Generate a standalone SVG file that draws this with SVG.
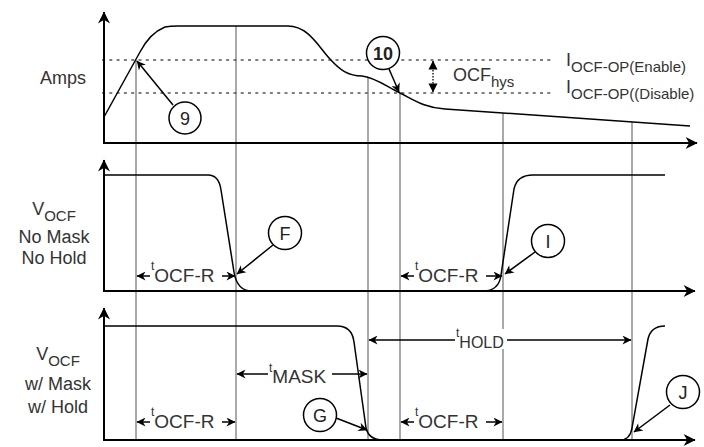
<svg xmlns="http://www.w3.org/2000/svg" width="704" height="447" viewBox="0 0 704 447">
<style>
text{font-family:"Liberation Sans",Arial,sans-serif;fill:#333}
.lbl{font-size:18px}
.sub{font-size:15px}
.ts{font-size:12px}
.big{font-size:19px}
.sig{fill:none;stroke:#000;stroke-width:1.5;stroke-linejoin:round}
.axis{fill:none;stroke:#000;stroke-width:2}
.guide{stroke:#555;stroke-width:1}
.dash{stroke:#555;stroke-width:1.3;stroke-dasharray:3 4.3}
.ptr{stroke:#000;stroke-width:1.5;fill:none}
.dim{stroke:#000;stroke-width:1.3;fill:none}
.circ{fill:#fff;stroke:#000;stroke-width:1.5}
.ctext{font-size:18px;text-anchor:middle;fill:#222}
.bg{fill:#fff}
</style>
<defs>
<marker id="ah" viewBox="0 0 10 10" refX="9.5" refY="5" markerWidth="11" markerHeight="9" markerUnits="userSpaceOnUse" orient="auto-start-reverse">
<path d="M0,0 L10,5 L0,10 L3,5 z" fill="#000"/>
</marker>
<marker id="ax" viewBox="0 0 10 10" refX="9.5" refY="5" markerWidth="13" markerHeight="12" markerUnits="userSpaceOnUse" orient="auto">
<path d="M0,0 L10,5 L0,10 L3,5 z" fill="#000"/>
</marker>
<marker id="sh" viewBox="0 0 10 10" refX="9.5" refY="5" markerWidth="9" markerHeight="12" markerUnits="userSpaceOnUse" orient="auto-start-reverse">
<path d="M0,0 L10,5 L0,10 z" fill="#000"/>
</marker>
</defs>
<rect width="704" height="447" fill="#fff"/>

<g id="guides">
<line class="dash" x1="102" y1="60" x2="552" y2="60"/>
<line class="dash" x1="102" y1="93" x2="552" y2="93"/>
<line class="guide" x1="136" y1="60" x2="136" y2="440"/>
<line class="guide" x1="236" y1="26" x2="236" y2="440"/>
<line class="guide" x1="368" y1="78" x2="368" y2="440"/>
<line class="guide" x1="400" y1="93" x2="400" y2="440"/>
<line class="guide" x1="503" y1="113" x2="503" y2="440"/>
<line class="guide" x1="632" y1="122" x2="632" y2="440"/>
</g>

<g id="axes">
<line class="axis" x1="104" y1="143" x2="104" y2="12" marker-end="url(#ax)"/>
<line class="axis" x1="103" y1="143" x2="697" y2="143" marker-end="url(#ax)"/>
<line class="axis" x1="104" y1="291" x2="104" y2="160" marker-end="url(#ax)"/>
<line class="axis" x1="103" y1="291" x2="695" y2="291" marker-end="url(#ax)"/>
<line class="axis" x1="104" y1="440" x2="104" y2="308" marker-end="url(#ax)"/>
<line class="axis" x1="103" y1="440" x2="695" y2="440" marker-end="url(#ax)"/>
</g>

<g id="signals">
<path class="sig" d="M104,117 L140,52 Q150,33 165,27 Q170,26 178,26 L288,26 C308,26 318,46 330,59 C340,70 348,76 362,76 C374,77 386,86 400,93 C414,100 425,108 445,109 L690,126"/>
<path class="sig" d="M104,175 L208,175 Q219,175 221,190 L234,272 Q237,291 252,291 L483,291 Q499,291 501,275 L514,189 Q517,175 533,175 L665,175"/>
<path class="sig" d="M104,326 L337,326 Q352,326 354,342 L366,428 Q369,440 383,440 L620,440 Q630,440 632,428 L648,339 Q651,326 665,326"/>
</g>

<g id="connectors">
<line class="ptr" x1="173" y1="105" x2="137" y2="61" marker-end="url(#ah)"/>
<line class="ptr" x1="389" y1="69" x2="399" y2="92" marker-end="url(#ah)"/>
<line class="ptr" x1="273" y1="245" x2="237" y2="274" marker-end="url(#ah)"/>
<line class="ptr" x1="535" y1="252" x2="505" y2="274" marker-end="url(#ah)"/>
<line class="ptr" x1="336" y1="418" x2="367" y2="430" marker-end="url(#ah)"/>
<line class="ptr" x1="670" y1="405" x2="634" y2="432" marker-end="url(#ah)"/>
<line class="dim" x1="137" y1="276" x2="235" y2="276" marker-start="url(#ah)" marker-end="url(#ah)"/>
<line class="dim" x1="401" y1="276" x2="502" y2="276" marker-start="url(#ah)" marker-end="url(#ah)"/>
<line class="dim" x1="137" y1="422" x2="235" y2="422" marker-start="url(#ah)" marker-end="url(#ah)"/>
<line class="dim" x1="401" y1="422" x2="502" y2="422" marker-start="url(#ah)" marker-end="url(#ah)"/>
<line class="dim" x1="237" y1="374" x2="367" y2="374" marker-start="url(#ah)" marker-end="url(#ah)"/>
<line class="dim" x1="369" y1="340" x2="631" y2="340" marker-start="url(#ah)" marker-end="url(#ah)"/>
<line x1="433" y1="61" x2="433" y2="92" stroke="#000" stroke-width="1.3" stroke-dasharray="1.5 1.5" marker-start="url(#sh)" marker-end="url(#sh)"/>
</g>

<g id="axis-labels">
<text class="lbl" x="63" y="84" text-anchor="middle">Amps</text>
<text x="54" y="215" text-anchor="middle"><tspan class="lbl">V</tspan><tspan class="sub" dy="6">OCF</tspan></text>
<text class="lbl" x="54" y="243" text-anchor="middle">No Mask</text>
<text class="lbl" x="54" y="264" text-anchor="middle">No Hold</text>
<text x="58" y="360" text-anchor="middle"><tspan class="lbl">V</tspan><tspan class="sub" dy="6">OCF</tspan></text>
<text class="lbl" x="58" y="390" text-anchor="middle">w/ Mask</text>
<text class="lbl" x="58" y="413" text-anchor="middle">w/ Hold</text>
</g>

<g id="level-labels">
<text x="566" y="66"><tspan class="lbl">I</tspan><tspan class="sub" dy="6">OCF-OP(Enable)</tspan></text>
<text x="566" y="93"><tspan class="lbl">I</tspan><tspan class="sub" dy="6">OCF-OP((Disable)</tspan></text>
<text x="453" y="81"><tspan class="lbl">OCF</tspan><tspan class="sub" dy="6">hys</tspan></text>
</g>

<g id="dim-labels">
<rect class="bg" x="150" y="264" width="72" height="22"/>
<text x="151" y="270"><tspan class="ts">t</tspan><tspan class="big" dy="12">OCF-R</tspan></text>
<rect class="bg" x="414" y="264" width="72" height="22"/>
<text x="415" y="270"><tspan class="ts">t</tspan><tspan class="big" dy="12">OCF-R</tspan></text>
<rect class="bg" x="150" y="410" width="72" height="22"/>
<text x="151" y="416"><tspan class="ts">t</tspan><tspan class="big" dy="12">OCF-R</tspan></text>
<rect class="bg" x="414" y="410" width="72" height="22"/>
<text x="415" y="416"><tspan class="ts">t</tspan><tspan class="big" dy="12">OCF-R</tspan></text>
<rect class="bg" x="268" y="362" width="64" height="22"/>
<text x="269" y="372"><tspan class="ts">t</tspan><tspan class="big" dy="11">MASK</tspan></text>
<rect class="bg" x="455" y="329" width="52" height="20"/>
<text x="456" y="337"><tspan class="ts">t</tspan><tspan class="lbl" style="font-size:16px" dy="11">HOLD</tspan></text>
</g>

<g id="n9"><circle class="circ" cx="185" cy="118" r="16"/><text class="ctext" x="185" y="124.5">9</text></g>
<g id="n10"><circle class="circ" cx="383" cy="53" r="16.5"/><text class="ctext" x="383" y="59.5" style="font-weight:bold">10</text></g>
<g id="nF"><circle class="circ" cx="285" cy="233" r="16.5"/><text class="ctext" x="285" y="239.5">F</text></g>
<g id="nI"><circle class="circ" cx="548" cy="241" r="16.5"/><text class="ctext" x="548" y="247.5">I</text></g>
<g id="nG"><circle class="circ" cx="320" cy="415" r="16.5"/><text class="ctext" x="320" y="421.5">G</text></g>
<g id="nJ"><circle class="circ" cx="683" cy="392" r="16.5"/><text class="ctext" x="683" y="398.5">J</text></g>
</svg>
